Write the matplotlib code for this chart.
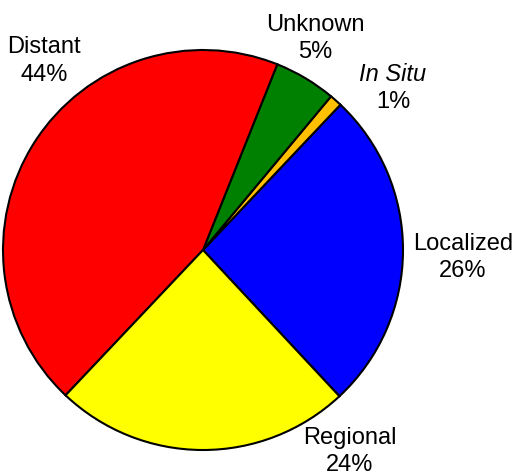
import matplotlib.pyplot as plt

labels = ['Localized', 'In Situ', 'Unknown', 'Distant', 'Regional']
values = [26, 1, 5, 44, 24]
colors = ['#0000FF', '#FFC000', '#008000', '#FF0000', '#FFFF00']

# label centres in pixels of the reference (x, name line y, percent line y)
label_px = [(463, 244, 271), (393, 75, 102), (315, 25, 52), (44, 47, 75), (350, 438, 465)]


def main():
    plt.rcParams['font.family'] = ['Liberation Sans', 'DejaVu Sans']
    fig = plt.figure(figsize=(5.16, 4.74), dpi=100)
    ax = fig.add_axes([3 / 516, 24 / 474, 400 / 516, 400 / 474])

    ax.pie(values, colors=colors, startangle=-47, counterclock=True,
           wedgeprops=dict(edgecolor='black', linewidth=1.5))
    ax.set_xlim(-1, 1)
    ax.set_ylim(-1, 1)
    ax.set_aspect('auto')

    for lab, val, (px, py1, py2) in zip(labels, values, label_px):
        x = (px - 203) / 200
        style = 'italic' if lab == 'In Situ' else 'normal'
        ax.text(x, (250 - py1) / 200, lab, ha='center', va='center', fontsize=17,
                style=style, clip_on=False)
        ax.text(x, (250 - py2) / 200, f'{val}%', ha='center', va='center', fontsize=17,
                clip_on=False)

    fig.savefig('out.png', dpi=100)


if __name__ == '__main__':
    main()
